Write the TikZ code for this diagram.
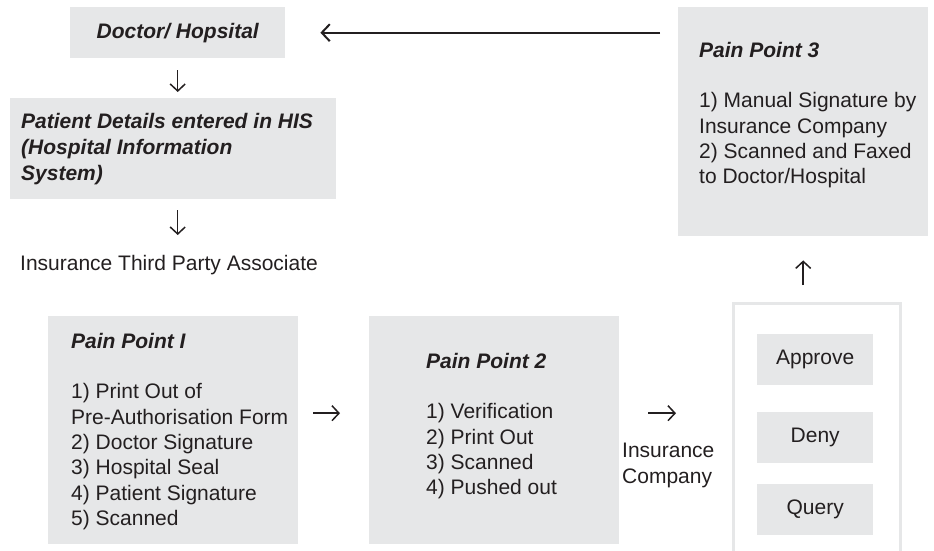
\documentclass[tikz,border=0pt]{standalone}
\usepackage{fontspec}
\setmainfont{Liberation Sans}
\usetikzlibrary{arrows.meta}
\definecolor{boxgray}{HTML}{E6E7E8}
\definecolor{ink}{HTML}{231F20}
\begin{document}
\begin{tikzpicture}[x=1pt,y=-1pt,
  every node/.style={font=\fontsize{21}{25.3}\selectfont, text=ink},
  graybox/.style={fill=boxgray, draw=none, inner sep=0pt, anchor=north west},
  txt/.style={align=left, inner sep=0pt, anchor=west},
  arr/.style={draw=ink, line width=1.5pt, -{Straight Barb[length=7pt,width=15pt,line width=1.5pt]}},
  longarr/.style={draw=ink, line width=2pt, -{Straight Barb[length=8pt,width=17pt,line width=2pt]}}
]
\useasboundingbox (0,0) rectangle (934,551);

% top row
\node[graybox, minimum width=215pt, minimum height=51pt] (doc) at (70,7) {\bfseries\itshape Doctor/ Hopsital};
\node[graybox, minimum width=326pt, minimum height=101pt] (pat) at (10,98) {};
\node[txt, font=\fontsize{21}{26}\selectfont\bfseries\itshape] (patt) at (21,149) {Patient Details entered in HIS\\(Hospital Information\\System)};
\node[txt] (ita) at (20,265) {Insurance Third Party Associate};

\node[graybox, minimum width=250pt, minimum height=229pt] (pp3) at (678,7) {};
\node[txt] (pp3t) at (699,115) {\textbf{\textit{Pain Point 3}}\\[25.3pt]1) Manual Signature by\\Insurance Company\\2) Scanned and Faxed\\to Doctor/Hospital};

% bottom row
\node[graybox, minimum width=250pt, minimum height=228pt] (pp1) at (48,316) {};
\node[txt] (pp1t) at (71,431.5) {\textbf{\textit{Pain Point I}}\\[25.3pt]1) Print Out of\\Pre-Authorisation Form\\2) Doctor Signature\\3) Hospital Seal\\4) Patient Signature\\5) Scanned};

\node[graybox, minimum width=250pt, minimum height=228pt] (pp2) at (369,316) {};
\node[txt] (pp2t) at (426,426) {\textbf{\textit{Pain Point 2}}\\[25.3pt]1) Verification\\2) Print Out\\3) Scanned\\4) Pushed out};

\node[txt] (ic) at (622,465.5) {Insurance\\Company};

\node[draw=boxgray, line width=2.5pt, anchor=north west, minimum width=167pt, minimum height=300pt, inner sep=0pt] (cont) at (732,302) {};
\node[graybox, minimum width=116pt, minimum height=51pt] (appr) at (757,334) {Approve};
\node[graybox, minimum width=116pt, minimum height=51pt] (deny) at (757,412) {Deny};
\node[graybox, minimum width=116pt, minimum height=51pt] (query) at (757,484) {Query};

% connectors
\draw[arr, shorten <=12pt, shorten >=6pt] (doc.south) -- (doc.south |- pat.north);
\draw[arr, shorten <=11pt, shorten >=20pt] (pat.south -| doc.south) -- (doc.south |- ita.north);
\draw[longarr, shorten <=18pt, shorten >=35pt] (pp3.west |- doc.east) -- (doc.east);
\draw[arr, shorten <=17pt, shorten >=24pt] (pp3.south |- cont.north) -- (pp3.south);
\draw[arr, shorten <=15pt, shorten >=29pt] ([yshift=17pt]pp1.east) -- ([yshift=17pt]pp2.west);
\draw[arr, shorten <=29pt, shorten >=56pt] ([yshift=17pt]pp2.east) -- ([yshift=17pt]pp2.east -| cont.west);
\end{tikzpicture}
\end{document}
